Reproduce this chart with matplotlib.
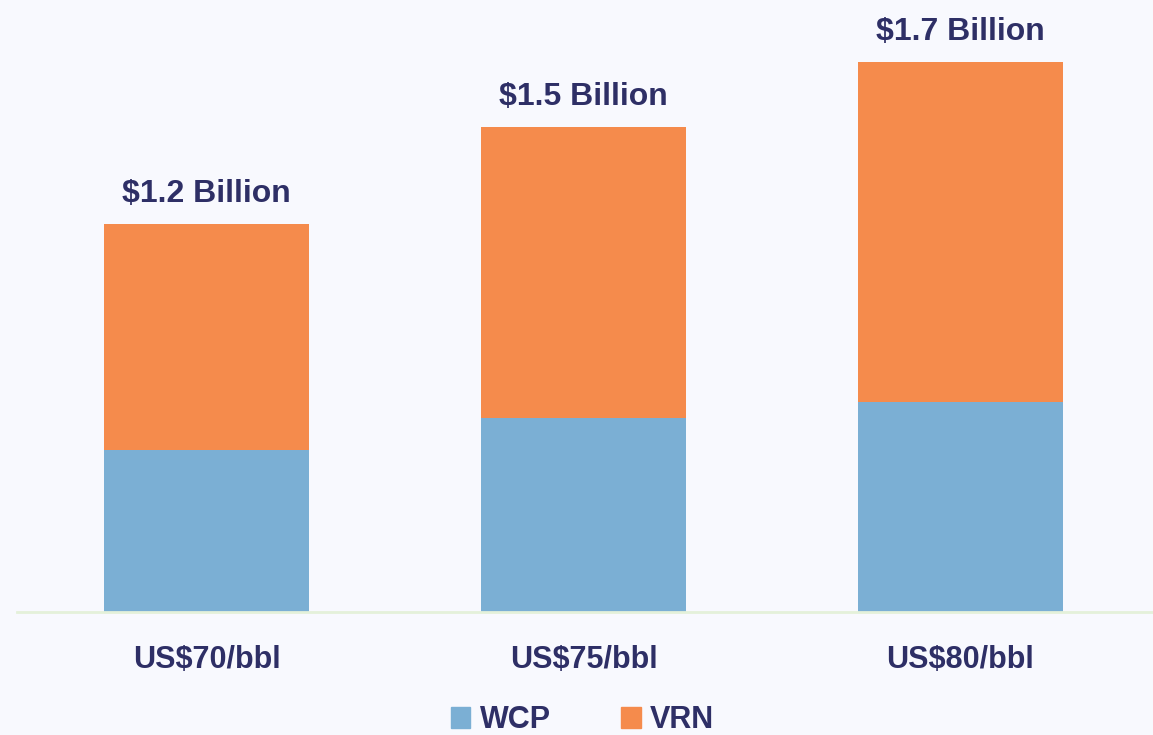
import matplotlib
matplotlib.use("Agg")
import matplotlib.pyplot as plt
import numpy as np
from matplotlib.patches import Patch

categories = ["US$70/bbl", "US$75/bbl", "US$80/bbl"]
wcp = [0.50, 0.60, 0.65]
vrn = [0.70, 0.90, 1.05]
totals_text = ["$1.2 Billion", "$1.5 Billion", "$1.7 Billion"]

bg = "#F8F9FE"
text_color = "#2E2F66"
wcp_color = "#7BAFD4"
vrn_color = "#F58B4C"

plt.rcParams["font.family"] = ["Liberation Sans Narrow", "Liberation Sans", "DejaVu Sans"]

fig = plt.figure(figsize=(11.53, 7.35), dpi=100, facecolor=bg)
ax = fig.add_axes([0.0147, 0.1673, 0.9853, 0.8327], facecolor=bg)

x = np.arange(len(categories))
width = 0.544
ax.bar(x, wcp, width, color=wcp_color, label="WCP")
ax.bar(x, vrn, width, bottom=wcp, color=vrn_color, label="VRN")

for i, t in enumerate(totals_text):
    ax.annotate(t, (x[i], wcp[i] + vrn[i]), xytext=(0, 16), textcoords="offset points",
                ha="center", va="baseline", fontsize=23, fontweight="bold", color=text_color)

ax.set_xlim(-0.503, 2.511)
ax.set_ylim(0, 1.893)
ax.set_xticks(x)
ax.set_xticklabels(categories, fontsize=22, fontweight="bold", color=text_color)
ax.tick_params(axis="x", length=0, pad=24)
ax.set_yticks([])
for s in ["top", "right", "left"]:
    ax.spines[s].set_visible(False)
ax.spines["bottom"].set_color("#E4F1DA")
ax.spines["bottom"].set_linewidth(2)

handles = [Patch(color=wcp_color, label="WCP"), Patch(color=vrn_color, label="VRN")]
fig.legend(handles=handles, loc="lower center", bbox_to_anchor=(0.505, -0.038), ncol=2,
           frameon=False, prop={"size": 22, "weight": "bold"}, labelcolor=text_color,
           handlelength=0.65, handleheight=0.65, handletextpad=0.3, columnspacing=2.3)

fig.savefig("out.png", dpi=100, facecolor=bg)
